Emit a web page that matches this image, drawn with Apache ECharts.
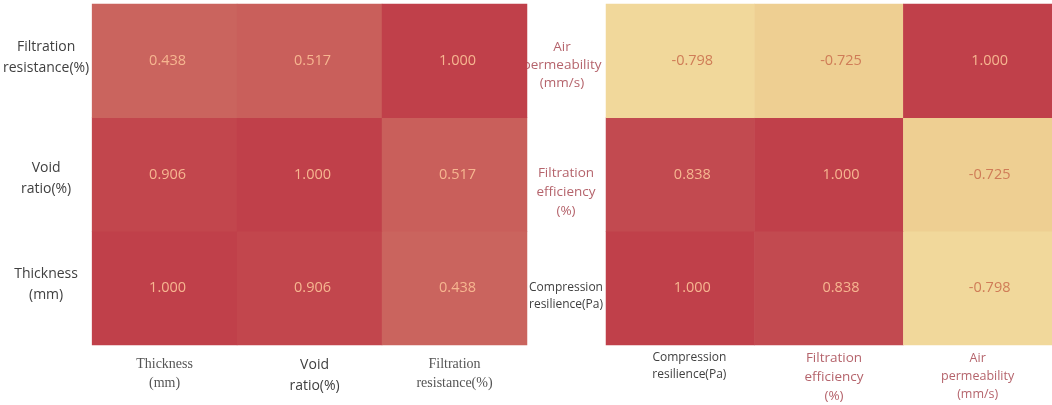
<!DOCTYPE html>
<html>
<head>
<meta charset="utf-8">
<script src="https://cdn.jsdelivr.net/npm/echarts@6/dist/echarts.min.js"></script>
<style>
  html, body { margin: 0; padding: 0; background: #ffffff; }
  #chart { width: 1052px; height: 405px; }
</style>
</head>
<body>
<div id="chart"></div>
<script>
// Left matrix: structural properties
const leftCategories = ['Thickness(mm)', 'Void ratio(%)', 'Filtration resistance(%)'];
const leftXLabels = ['Thickness\n(mm)', 'Void\nratio(%)', 'Filtration\nresistance(%)'];
const leftYLabels = ['Thickness\n(mm)', 'Void\nratio(%)', 'Filtration\nresistance(%)'];
// rows listed bottom to top, values left to right
const leftRows = [
  [1.000, 0.906, 0.438],   // Thickness
  [0.906, 1.000, 0.517],   // Void ratio
  [0.438, 0.517, 1.000]    // Filtration resistance
];

// Right matrix: performance properties
const rightCategories = ['Compression resilience(Pa)', 'Filtration efficiency(%)', 'Air permeability(mm/s)'];
const rightXLabels = ['Compression\nresilience(Pa)', 'Filtration\nefficiency\n(%)', 'Air\npermeability\n(mm/s)'];
const rightYLabels = ['Compression\nresilience(Pa)', 'Filtration\nefficiency\n(%)', 'Air\npermeability\n(mm/s)'];
const rightRows = [
  [1.000, 0.838, -0.798],  // Compression resilience
  [0.838, 1.000, -0.725],  // Filtration efficiency
  [-0.798, -0.725, 1.000]  // Air permeability
];

// text style used by each tick label (keys into richStyles)
const leftXStyles = ['serif', 'sansX', 'serif'];
const leftYStyles = ['sansY', 'sansY', 'sansY'];
const rightXStyles = ['grayX', 'roseX', 'roseSmallX'];
const rightYStyles = ['grayY', 'roseY', 'roseAirY'];

function toCells(rows) {
  const out = [];
  rows.forEach((row, yi) => row.forEach((v, xi) => out.push([xi, yi, v])));
  return out;
}

const SANS = 'Open Sans';
const richStyles = {
  sansY: { fontFamily: SANS, fontSize: 14, color: '#404040', lineHeight: 21, align: 'center' },
  sansX: { fontFamily: SANS, fontSize: 14, color: '#404040', lineHeight: 21, align: 'center', padding: [0, 0, 0, 10] },
  serif: { fontFamily: 'Liberation Serif', fontSize: 14, color: '#555555', lineHeight: 19, align: 'center' },
  grayX: { fontFamily: SANS, fontSize: 12, color: '#404040', lineHeight: 17, align: 'center', padding: [0, 0, 0, 18] },
  grayY: { fontFamily: SANS, fontSize: 12, color: '#404040', lineHeight: 17, align: 'center' },
  roseX: { fontFamily: SANS, fontSize: 13.5, color: '#b5646c', lineHeight: 19, align: 'center', padding: [0, 0, 0, 10] },
  roseY: { fontFamily: SANS, fontSize: 13.5, color: '#b5646c', lineHeight: 19, align: 'center' },
  roseSmallX: { fontFamily: SANS, fontSize: 12.5, color: '#b5646c', lineHeight: 18, align: 'center' },
  roseAirY: { fontFamily: SANS, fontSize: 13.5, color: '#b5646c', lineHeight: 18, align: 'center', padding: [0, 8, 0, 0] },
  // spacer lines that shift a label block up or down inside its band
  gap6: { fontSize: 1, lineHeight: 6 },
  gap8: { fontSize: 1, lineHeight: 8 },
  gap16: { fontSize: 1, lineHeight: 16 },
  gap36: { fontSize: 1, lineHeight: 36 }
};

// extra blank space above (positive) or below (negative) each y label block
const leftYShift = [-8, 8, -6];
const rightYShift = [16, 36, 8];

function tickFormatter(labels, styles, shifts) {
  return function (value, index) {
    let text = labels[index].split('\n').map(l => '{' + styles[index] + '|' + l + '}').join('\n');
    const s = shifts ? shifts[index] : 0;
    if (s > 0) text = '{gap' + s + '| }\n' + text;
    if (s < 0) text = text + '\n{gap' + (-s) + '| }';
    return text;
  };
}

function cellLabel(dx) {
  return {
    show: true,
    offset: [dx, 0],
    formatter: p => (p.value[2] < 0 ? '{dark|' : '{light|') + p.value[2].toFixed(3) + '}',
    rich: {
      light: { fontFamily: SANS, fontSize: 14.5, color: '#f6b690' },
      dark: { fontFamily: SANS, fontSize: 14.5, color: '#cf7c57' }
    }
  };
}

const chart = echarts.init(document.getElementById('chart'));
chart.setOption({
  backgroundColor: '#ffffff',
  animation: false,
  grid: [
    { left: 92, top: 4, width: 435, height: 341 },
    { left: 606, top: 4, width: 446, height: 341 }
  ],
  xAxis: [
    {
      gridIndex: 0, type: 'category', data: leftCategories,
      axisLine: { show: false }, axisTick: { show: false }, splitLine: { show: false },
      axisLabel: { margin: 10, interval: 0, formatter: tickFormatter(leftXLabels, leftXStyles), rich: richStyles }
    },
    {
      gridIndex: 1, type: 'category', data: rightCategories,
      axisLine: { show: false }, axisTick: { show: false }, splitLine: { show: false },
      axisLabel: { margin: 4, interval: 0, formatter: tickFormatter(rightXLabels, rightXStyles), rich: richStyles }
    }
  ],
  yAxis: [
    {
      gridIndex: 0, type: 'category', data: leftCategories,
      axisLine: { show: false }, axisTick: { show: false }, splitLine: { show: false },
      axisLabel: { margin: 46, interval: 0, align: 'center', formatter: tickFormatter(leftYLabels, leftYStyles, leftYShift), rich: richStyles }
    },
    {
      gridIndex: 1, type: 'category', data: rightCategories,
      axisLine: { show: false }, axisTick: { show: false }, splitLine: { show: false },
      axisLabel: { margin: 40, interval: 0, align: 'center', formatter: tickFormatter(rightYLabels, rightYStyles, rightYShift), rich: richStyles }
    }
  ],
  visualMap: [
    {
      type: 'continuous', show: false, seriesIndex: 0, dimension: 2,
      min: 0.4, max: 1.0,
      inRange: { color: ['#cb665f', '#c0404a'] }
    },
    {
      type: 'piecewise', show: false, seriesIndex: 1, dimension: 2,
      pieces: [
        { max: -0.76, color: '#f1d89b' },
        { min: -0.76, max: 0, color: '#eecf92' },
        { min: 0, max: 0.9, color: '#c24a50' },
        { min: 0.9, color: '#c0404a' }
      ]
    }
  ],
  series: [
    {
      type: 'heatmap', xAxisIndex: 0, yAxisIndex: 0,
      data: toCells(leftRows), label: cellLabel(3),
      emphasis: { disabled: true }
    },
    {
      type: 'heatmap', xAxisIndex: 1, yAxisIndex: 1,
      data: toCells(rightRows), label: cellLabel(12),
      emphasis: { disabled: true }
    }
  ]
});
</script>
</body>
</html>
